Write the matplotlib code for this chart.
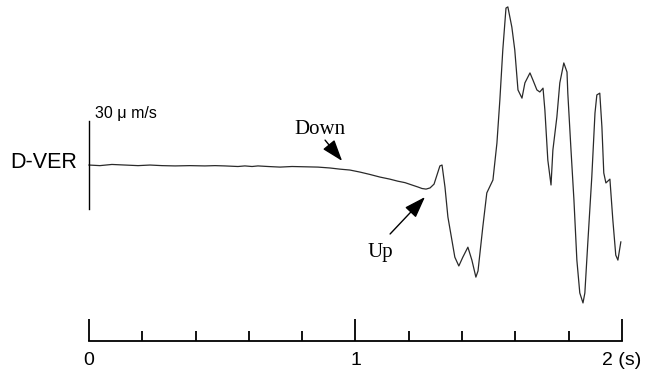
import matplotlib

matplotlib.use("Agg")
import matplotlib.pyplot as plt

plt.rcParams["font.family"] = ["Liberation Sans", "DejaVu Sans"]

# trace: time (s) and vertical velocity (um/s)
time_s = [
    0.000, 0.041, 0.086, 0.135, 0.184, 0.229, 0.274, 0.323, 0.379, 0.435,
    0.473, 0.510, 0.559, 0.585, 0.612, 0.634, 0.672, 0.717, 0.762, 0.811,
    0.859, 0.904, 0.942, 0.979, 1.017, 1.054, 1.092, 1.129, 1.159, 1.186,
    1.212, 1.235, 1.250, 1.265, 1.280, 1.295, 1.306, 1.317, 1.325, 1.336,
    1.347, 1.362, 1.373, 1.388, 1.403, 1.422, 1.437, 1.452, 1.460, 1.478,
    1.493, 1.505, 1.516, 1.531, 1.542, 1.553, 1.565, 1.572, 1.587, 1.598,
    1.610, 1.625, 1.636, 1.655, 1.666, 1.681, 1.692, 1.704, 1.711, 1.722,
    1.734, 1.741, 1.756, 1.767, 1.782, 1.794, 1.797, 1.809, 1.820, 1.831,
    1.842, 1.854, 1.861, 1.872, 1.887, 1.899, 1.906, 1.917, 1.925, 1.932,
    1.940, 1.947, 1.955, 1.966, 1.977, 1.985, 1.996,
]
velocity = [
    0.0, -0.2, 0.2, 0.0, -0.2, 0.0, -0.2, -0.3, -0.2, -0.3,
    -0.2, -0.3, -0.5, -0.3, -0.5, -0.3, -0.5, -0.7, -0.5, -0.6,
    -0.7, -1.0, -1.4, -1.7, -2.4, -3.2, -4.1, -4.8, -5.5, -6.0,
    -6.8, -7.5, -8.0, -8.2, -7.8, -6.5, -3.4, -0.3, 0.0, -7.5,
    -17.7, -25.6, -31.4, -34.4, -31.4, -28.0, -32.4, -38.2, -36.1, -21.1,
    -9.5, -7.2, -5.1, 7.5, 22.2, 39.2, 53.5, 53.9, 47.0, 39.2,
    25.6, 22.8, 28.0, 31.4, 29.0, 25.6, 24.9, 26.2, 18.7, 1.7,
    -6.8, 5.1, 16.4, 28.0, 34.8, 31.7, 24.5, 5.1, -11.9, -32.4,
    -43.6, -47.0, -43.6, -26.6, -4.1, 17.7, 23.9, 24.5, 13.0, -2.7,
    -6.1, -5.5, -4.8, -18.7, -30.7, -32.4, -26.2,
]

major_ticks = [0, 1, 2]
major_labels = ["0", "1", "2 (s)"]
minor_ticks = [0.2, 0.4, 0.6, 0.8, 1.2, 1.4, 1.6, 1.8]
scale_bar = 30  # um/s
axis_level = -60.0

fig = plt.figure(figsize=(6.56, 3.76), dpi=100)
ax = fig.add_axes([0, 0, 1, 1])
ax.set_xlim(-0.334, 2.128)
ax.set_ylim(-71.9, 56.25)

ax.plot(time_s, velocity, color="#2a2a2a", lw=0.9)
ax.plot([0, 0], [-scale_bar / 2, scale_bar / 2], color="black", lw=1.0)

ax.text(0.022, 16.0, "30 \u03bc m/s", fontsize=11.5, va="baseline", ha="left")
ax.text(-0.045, 0.7, "D-VER", fontsize=15.5, va="center", ha="right")

arrow = dict(arrowstyle="-|>,head_length=1.1,head_width=0.38", color="black",
             lw=1.0, mutation_scale=12, shrinkA=0, shrinkB=0)
ax.text(0.867, 12.2, "Down", fontsize=15, family="Liberation Serif", ha="center", va="center")
ax.annotate("", xy=(0.95, 1.4), xytext=(0.886, 8.5), arrowprops=arrow)
ax.text(1.092, -29.7, "Up", fontsize=15, family="Liberation Serif", ha="center", va="center")
ax.annotate("", xy=(1.261, -10.9), xytext=(1.130, -23.5), arrowprops=arrow)

for side in ["top", "left", "right"]:
    ax.spines[side].set_visible(False)
ax.spines["bottom"].set_position(("data", axis_level))
ax.spines["bottom"].set_bounds(0, 2)
ax.spines["bottom"].set_linewidth(1.3)
ax.set_xticks(major_ticks, major_labels)
ax.set_xticks(minor_ticks, minor=True)
ax.tick_params(axis="x", which="major", direction="in", length=16, width=1.3, pad=8, labelsize=14)
ax.tick_params(axis="x", which="minor", direction="in", length=7.5, width=1.3)
ax.set_yticks([])

fig.savefig("out.png", dpi=100, facecolor="white")
